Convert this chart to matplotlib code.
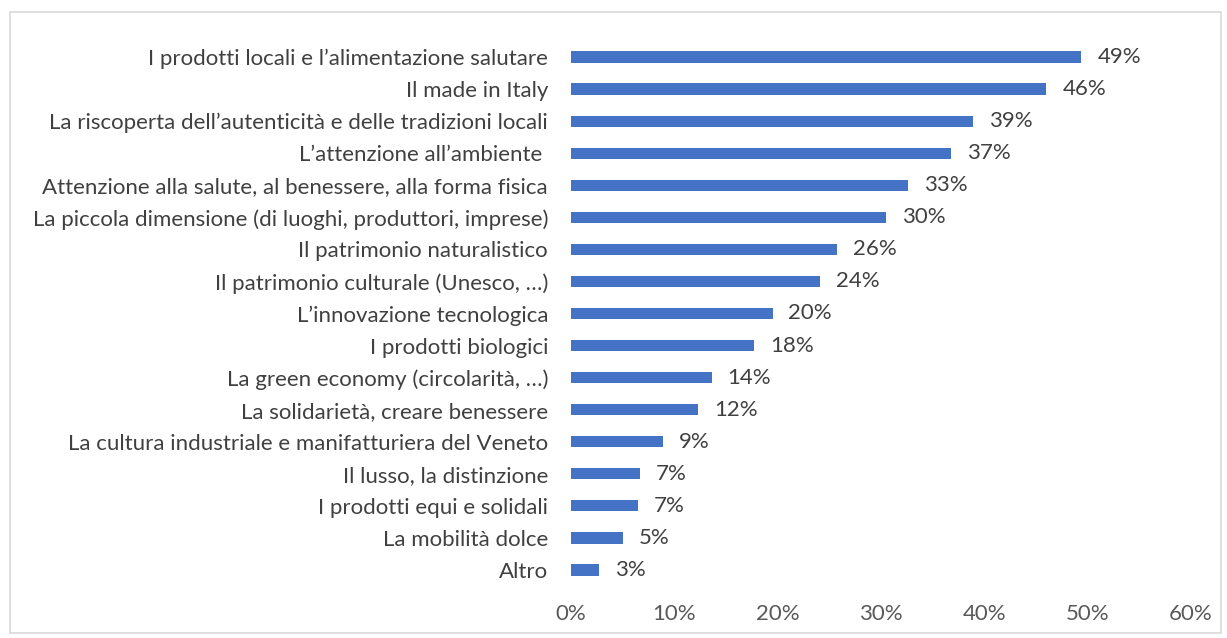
import matplotlib.pyplot as plt
from matplotlib.patches import Rectangle

# categories top to bottom, as in the chart
labels = ['I prodotti locali e l\u2019alimentazione salutare',
          'Il made in Italy',
          'La riscoperta dell\u2019autenticit\u00e0 e delle tradizioni locali',
          'L\u2019attenzione all\u2019ambiente ',
          'Attenzione alla salute, al benessere, alla forma fisica',
          'La piccola dimensione (di luoghi, produttori, imprese)',
          'Il patrimonio naturalistico',
          'Il patrimonio culturale (Unesco, \u2026)',
          'L\u2019innovazione tecnologica',
          'I prodotti biologici',
          'La green economy (circolarit\u00e0, \u2026)',
          'La solidariet\u00e0, creare benessere',
          'La cultura industriale e manifatturiera del Veneto',
          'Il lusso, la distinzione',
          'I prodotti equi e solidali',
          'La mobilit\u00e0 dolce',
          'Altro']
values = [49.4, 46.0, 38.9, 36.8, 32.6, 30.5, 25.7, 24.1, 19.5, 17.7,
          13.6, 12.3, 8.9, 6.7, 6.5, 5.0, 2.7]
value_labels = ['49%', '46%', '39%', '37%', '33%', '30%', '26%', '24%', '20%',
                '18%', '14%', '12%', '9%', '7%', '7%', '5%', '3%']
xticks = [0, 10, 20, 30, 40, 50, 60]

plt.rcParams['font.family'] = ['Lato', 'DejaVu Sans']

fig = plt.figure(figsize=(12.27, 6.38), dpi=100)
ax = fig.add_axes([571/1227, 1 - 586/638, 620/1227, 545/638])

ypos = list(range(len(labels)))
ax.barh(ypos, values, height=0.35, color='#4472c4')
ax.set_ylim(len(labels) - 0.5, -0.5)
ax.set_xlim(0, 60)

for y, v, t in zip(ypos, values, value_labels):
    ax.annotate(t, (v, y), xytext=(11.5, 0), textcoords='offset points',
                va='center', ha='left', fontsize=16, color='#404040')

ax.set_yticks(ypos)
ax.set_yticklabels(labels, fontsize=16, color='#404040')
ax.set_xticks(xticks)
ax.set_xticklabels([str(x) + '%' for x in xticks], fontsize=16, color='#595959')
ax.tick_params(axis='both', length=0)
ax.tick_params(axis='y', pad=16.5)
ax.tick_params(axis='x', pad=13)
for s in ax.spines.values():
    s.set_visible(False)

# light frame around the whole chart
fig.patches.append(Rectangle((10/1227, 1 - 633/638), 1211/1227, 621/638,
                             transform=fig.transFigure, fill=False,
                             edgecolor='#d9d9d9', linewidth=1.2))

fig.savefig('out.png', dpi=100)
